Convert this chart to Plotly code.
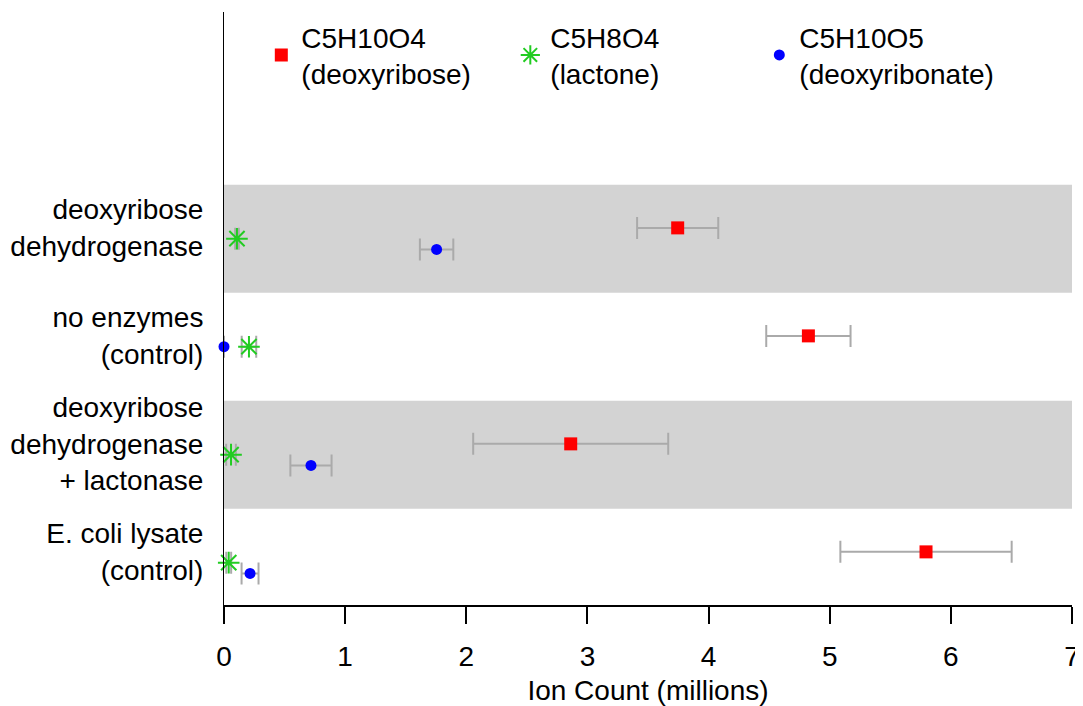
import plotly.graph_objects as go

# ---- data ----
conditions = [
    "deoxyribose<br>dehydrogenase",
    "no enzymes<br>(control)",
    "deoxyribose<br>dehydrogenase<br>+ lactonase",
    "E. coli lysate<br>(control)",
]
deoxyribose = [3.745, 4.824, 2.862, 5.795]
deoxyribose_err = [0.335, 0.348, 0.805, 0.707]
lactone = [0.107, 0.206, 0.058, 0.039]
lactone_err = [0.015, 0.06, 0.04, 0.02]
deoxyribonate = [1.755, 0.0, 0.718, 0.215]
deoxyribonate_err = [0.138, 0.0, 0.17, 0.07]
x_ticks = [0, 1, 2, 3, 4, 5, 6, 7]

# ---- layout helpers ----
n = len(conditions)
centers = [n - i for i in range(n)]          # top row highest
red_off = [0.1] * n
star_off = [0.0] * n
blue_off = [-0.1, 0.0, -0.1, -0.1]

FONT = "Liberation Sans, Arial, Helvetica, sans-serif"
ERR_COL = "#aaaaaa"

fig = go.Figure()

# grey bands for alternating rows
for i, c in enumerate(centers):
    if i % 2 == 0:
        fig.add_shape(type="rect", xref="x", yref="y", x0=0, x1=7,
                      y0=c - 0.5, y1=c + 0.5, fillcolor="#d3d3d3",
                      line_width=0, layer="below")

def err(vals):
    return dict(type="data", array=vals, color=ERR_COL, thickness=2, width=11)

fig.add_trace(go.Scatter(
    x=deoxyribose, y=[c + o for c, o in zip(centers, red_off)],
    mode="markers", name="C5H10O4<br>(deoxyribose)",
    marker=dict(symbol="square", size=13, color="#ff0000"),
    error_x=err(deoxyribose_err), cliponaxis=False))
fig.add_trace(go.Scatter(
    x=lactone, y=[c + o for c, o in zip(centers, star_off)],
    mode="markers", name="C5H8O4<br>(lactone)",
    marker=dict(symbol="asterisk-open", size=18, color="#22cc22",
                line=dict(color="#22cc22", width=2)),
    error_x=err(lactone_err), cliponaxis=False))
fig.add_trace(go.Scatter(
    x=deoxyribonate, y=[c + o for c, o in zip(centers, blue_off)],
    mode="markers", name="C5H10O5<br>(deoxyribonate)",
    marker=dict(symbol="circle", size=11, color="#0000ff"),
    error_x=err(deoxyribonate_err), cliponaxis=False))

# page body adds an 8px margin, so the figure is sized to fit the window
fig.update_layout(
    width=1075, height=698,
    margin=dict(l=216, r=11, t=4, b=101, autoexpand=False),
    plot_bgcolor="white", paper_bgcolor="white",
    font=dict(family=FONT, size=28, color="black"),
    showlegend=True,
    legend=dict(orientation="h", x=0.044, xanchor="left", y=1.0, yanchor="top",
                entrywidth=204, entrywidthmode="pixels",
                bgcolor="rgba(0,0,0,0)", font=dict(size=28)),
    xaxis=dict(range=[0, 7], tickvals=x_ticks, ticks="outside", ticklen=17,
               tickwidth=2, tickcolor="black", showline=True, linewidth=2,
               linecolor="black", showgrid=False, zeroline=False,
               ticklabelstandoff=8, automargin=False,
               title=dict(text="Ion Count (millions)", standoff=10,
                          font=dict(size=28))),
    yaxis=dict(range=[0.608, 6.099], tickvals=[c + 0.1 for c in centers],
               ticktext=conditions, ticks="", showline=True, linewidth=1,
               linecolor="black", showgrid=False, zeroline=False,
               ticklabelstandoff=14, automargin=False),
)

fig.write_html("out.html")
